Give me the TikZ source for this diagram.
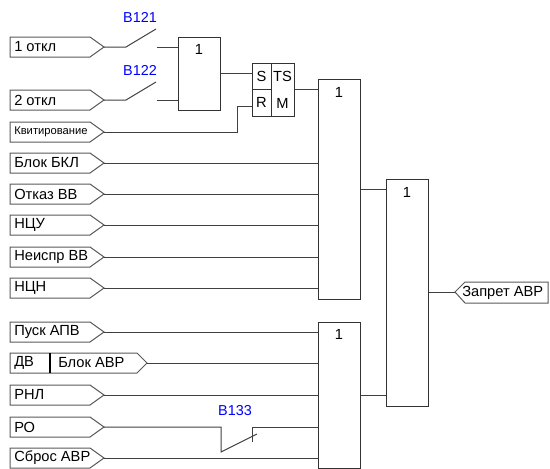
\documentclass[tikz,border=0pt]{standalone}
\usepackage{fontspec}
\setmainfont{Liberation Sans}
\tikzset{
  wire/.style={draw=black!75, line width=0.75pt},
  gate/.style={draw=black!80, line width=0.75pt, inner sep=0, minimum width=31.5pt},
  tagbox/.style={draw=black!65, line width=0.75pt},
  tagtext/.style={anchor=west, inner sep=0, font=\fontsize{11}{13}\selectfont},
  lbl/.style={inner sep=0, font=\fontsize{11}{13}\selectfont},
  swlbl/.style={inner sep=0, text=blue, font=\fontsize{10.8}{13}\selectfont},
}
\newcommand\intag[5]{% name, y, text, rect right, tip
  \draw[tagbox] (10,#2-10) -- (#4,#2-10) -- (#5,#2) -- (#4,#2+10) -- (10,#2+10) -- cycle;
  \node[tagtext] (#1) at (14,#2) {#3};
  \coordinate (#1o) at (#5,#2);}
\begin{document}
\begin{tikzpicture}[x=0.75pt,y=-0.75pt]
\useasboundingbox (0,0) rectangle (550,468);
\clip (0,0) rectangle (550,468);

% gates
\node[gate, minimum height=73*0.75pt] (g1) at (199,73.5) {};
\node[gate, minimum height=220*0.75pt] (g2) at (339,189) {};
\node[gate, minimum height=227*0.75pt] (g3) at (407,292.5) {};
\node[gate, minimum height=146*0.75pt] (g4) at (339,395) {};
\node[lbl] (g1l) at ([yshift=-13*0.75pt]g1.north) {1};
\node[lbl] (g2l) at ([yshift=-14*0.75pt]g2.north) {1};
\node[lbl] (g3l) at ([yshift=-14*0.75pt]g3.north) {1};
\node[lbl] (g4l) at ([yshift=-13*0.75pt]g4.north) {1};

% SR trigger
\node[draw=black!80, line width=0.75pt, inner sep=0, minimum width=14.25pt, minimum height=19.5pt, lbl] (sS) at (261.5,76) {S};
\node[draw=black!80, line width=0.75pt, inner sep=0, minimum width=14.25pt, minimum height=20.25pt, lbl] (sR) at (261.5,102.5) {R};
\node[draw=black!80, line width=0.75pt, inner sep=0, minimum width=17.25pt, minimum height=39.75pt] (sQ) at (282.5,89.5) {};
\node[lbl] (sTS) at (282.5,76) {TS};
\node[lbl] (sM) at (282.5,103) {M};

% input tags
\intag{t1}{47}{1 откл}{90}{104}
\intag{t2}{100}{2 откл}{90}{104}
\draw[tagbox] (10,122) -- (90,122) -- (104,132) -- (90,142) -- (10,142) -- cycle;
\node[tagtext, font=\fontsize{8.4}{10}\selectfont] (tk) at (14,132) {Квитирование};
\coordinate (tko) at (104,132);
\intag{t3}{163}{Блок БКЛ}{90}{104}
\intag{t4}{194}{Отказ ВВ}{90}{104}
\intag{t5}{225}{НЦУ}{90}{104}
\intag{t6}{257}{Неиспр ВВ}{90}{104}
\intag{t7}{288}{НЦН}{90}{104}
\intag{t8}{332}{Пуск АПВ}{90}{104}
\draw[tagbox] (10,353) -- (137,353) -- (147,363) -- (137,373) -- (10,373) -- cycle;
\draw[draw=black, line width=1.6pt] (50,353) -- (50,373);
\node[tagtext] (t9) at (14,363) {ДВ};
\node[tagtext] (t9b) at (58,363) {Блок АВР};
\coordinate (t9o) at (147,363);
\intag{t10}{395}{РНЛ}{90}{104}
\intag{t11}{427}{РО}{90}{104}
\intag{t12}{458}{Сброс АВР}{90}{104}

% output tag
\draw[tagbox] (455,292) -- (465,282) -- (548,282) -- (548,303) -- (465,303) -- cycle;
\node[tagtext] (tout) at (462,292.5) {Запрет АВР};
\coordinate (touti) at (455,292);

% switch B121
\coordinate (s1a) at (126,47);
\coordinate (s1e) at (156,29);
\coordinate (s1b) at (157,47);
\draw[wire] (t1o) -- (s1a) -- (s1e);
\draw[wire] (s1b) -- (s1b -| g1.west);
\node[swlbl] (B121) at (140,17) {B121};
% switch B122
\coordinate (s2a) at (126,100);
\coordinate (s2e) at (156,82);
\coordinate (s2b) at (157,100);
\draw[wire] (t2o) -- (s2a) -- (s2e);
\draw[wire] (s2b) -- (s2b -| g1.west);
\node[swlbl] (B122) at (140,70) {B122};

% trigger wiring
\draw[wire] (g1.east) -- (g1.east -| sS.west);
\coordinate (kq) at (237,132);
\coordinate (kr) at (237,106);
\draw[wire] (tko) -- (kq) -- (kr) -- (kr -| sR.west);
\draw[wire] (sQ.east) -- (sQ.east -| g2.west);

% gate 2 inputs
\foreach \t in {t3,t4,t5,t6,t7} \draw[wire] (\t o) -- (\t o -| g2.west);
\draw[wire] (g2.east) -- (g2.east -| g3.west);
% gate 4 inputs
\foreach \t in {t8,t9,t10,t12} \draw[wire] (\t o) -- (\t o -| g4.west);
% switch B133
\coordinate (s3a) at (221,427);
\coordinate (s3b) at (221,452);
\coordinate (s3e) at (257,434);
\coordinate (s3c) at (252,427);
\coordinate (s3d) at (252,442);
\draw[wire] (t11o) -- (s3a) -- (s3b) -- (s3e);
\draw[wire] (s3d) -- (s3c) -- (s3c -| g4.west);
\node[swlbl] (B133) at (235,411) {B133};
\draw[wire] (g4.east) -- (g4.east -| g3.west);
\draw[wire] (g3.east |- touti) -- (touti);
\end{tikzpicture}
\end{document}
